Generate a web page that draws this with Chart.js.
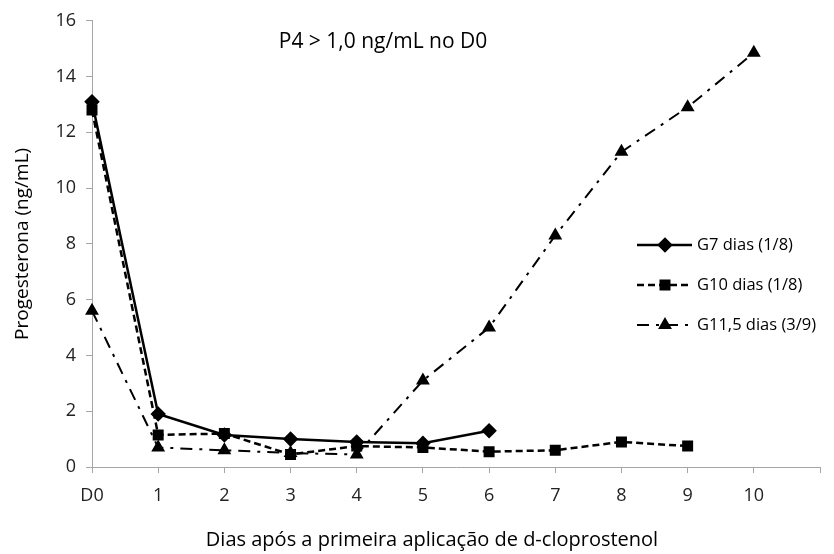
<!DOCTYPE html>
<html>
<head>
<meta charset="utf-8">
<script src="https://cdn.jsdelivr.net/npm/chart.js@4.4.1/dist/chart.umd.min.js"></script>
<style>
  html, body { margin: 0; padding: 0; background: #fff; }
  #wrap { width: 834px; height: 554px; }
</style>
</head>
<body>
<div id="wrap"><canvas id="chart" width="834" height="554"></canvas></div>
<script>
// days after first d-cloprostenol dose (last slot is empty padding on the axis)
const days = ['D0', '1', '2', '3', '4', '5', '6', '7', '8', '9', '10', ''];

const g7 = [13.1, 1.9, 1.15, 1.0, 0.9, 0.85, 1.3];
const g10 = [12.8, 1.15, 1.2, 0.45, 0.75, 0.7, 0.55, 0.6, 0.9, 0.75];
const g115 = [5.6, 0.7, 0.6, 0.5, 0.45, 3.1, 5.0, 8.3, 11.3, 12.9, 14.85];

const seriesNames = ['G7 dias (1/8)', 'G10 dias (1/8)', 'G11,5 dias (3/9)'];
const yTicks = [0, 2, 4, 6, 8, 10, 12, 14, 16];

const FONT = '"Open Sans", "DejaVu Sans", sans-serif';
const AXIS_GREY = '#a6a6a6';

// plot title, x axis title and the legend on the right side
const overlay = {
    id: 'overlay',
    afterDraw(chart) {
        const ctx = chart.ctx;
        ctx.save();
        ctx.fillStyle = '#000';
        ctx.font = '21px ' + FONT;
        ctx.textAlign = 'center';
        ctx.textBaseline = 'middle';
        ctx.fillText('P4 > 1,0 ng/mL no D0', 383, 42);

        ctx.font = '20px ' + FONT;
        ctx.fillText('Dias após a primeira aplicação de d-cloprostenol', 432, 540);

        const rows = [245, 285, 325];
        chart.data.datasets.forEach((ds, i) => {
            const y = rows[i];
            ctx.strokeStyle = '#000';
            ctx.lineWidth = ds.borderWidth;
            ctx.setLineDash(ds.borderDash || []);
            ctx.beginPath();
            ctx.moveTo(637, y);
            ctx.lineTo(692, y);
            ctx.stroke();
            ctx.setLineDash([]);
            Chart.helpers.drawPoint(ctx, {
                pointStyle: ds.pointStyle,
                radius: ds.pointRadius,
                rotation: 0,
                borderWidth: 1
            }, 665, y);
            ctx.fillStyle = '#000';
            ctx.font = '16.5px ' + FONT;
            ctx.textAlign = 'left';
            ctx.fillText(ds.label, 697, y);
        });
        ctx.restore();
    }
};

new Chart(document.getElementById('chart'), {
    type: 'line',
    data: {
        labels: days,
        datasets: [
            {
                label: seriesNames[0],
                data: g7,
                borderColor: '#000',
                backgroundColor: '#000',
                borderWidth: 2.5,
                pointStyle: 'rectRot',
                pointRadius: 6,
                tension: 0
            },
            {
                label: seriesNames[1],
                data: g10,
                borderColor: '#000',
                backgroundColor: '#000',
                borderWidth: 2.5,
                borderDash: [7, 4],
                pointStyle: 'rect',
                pointRadius: 6,
                tension: 0
            },
            {
                label: seriesNames[2],
                data: g115,
                borderColor: '#000',
                backgroundColor: '#000',
                borderWidth: 2,
                borderDash: [12, 7, 3, 7],
                pointStyle: 'triangle',
                pointRadius: 6,
                tension: 0
            }
        ]
    },
    options: {
        responsive: false,
        animation: false,
        layout: { padding: { top: 14, right: 14, left: 0, bottom: 0 } },
        plugins: {
            legend: { display: false },
            tooltip: { enabled: false }
        },
        scales: {
            x: {
                type: 'category',
                offset: false,
                grid: { drawOnChartArea: false, drawTicks: true, tickLength: 6, color: AXIS_GREY },
                border: { color: AXIS_GREY, width: 1 },
                ticks: { color: '#222', font: { family: FONT, size: 18 }, padding: 12, autoSkip: false, maxRotation: 0 },
                afterFit(scale) { scale.height = 87; }
            },
            y: {
                min: 0,
                max: 16,
                afterBuildTicks(scale) { scale.ticks = yTicks.map(v => ({ value: v })); },
                grid: { drawOnChartArea: false, drawTicks: true, tickLength: 6, color: AXIS_GREY },
                border: { color: AXIS_GREY, width: 1 },
                ticks: { color: '#222', font: { family: FONT, size: 18 }, padding: 10 },
                title: {
                    display: true,
                    text: 'Progesterona (ng/mL)',
                    color: '#000',
                    font: { family: FONT, size: 19 },
                    padding: { top: 11, bottom: 4 }
                },
                afterFit(scale) { scale.width = 92; }
            }
        }
    },
    plugins: [overlay]
});
</script>
</body>
</html>
